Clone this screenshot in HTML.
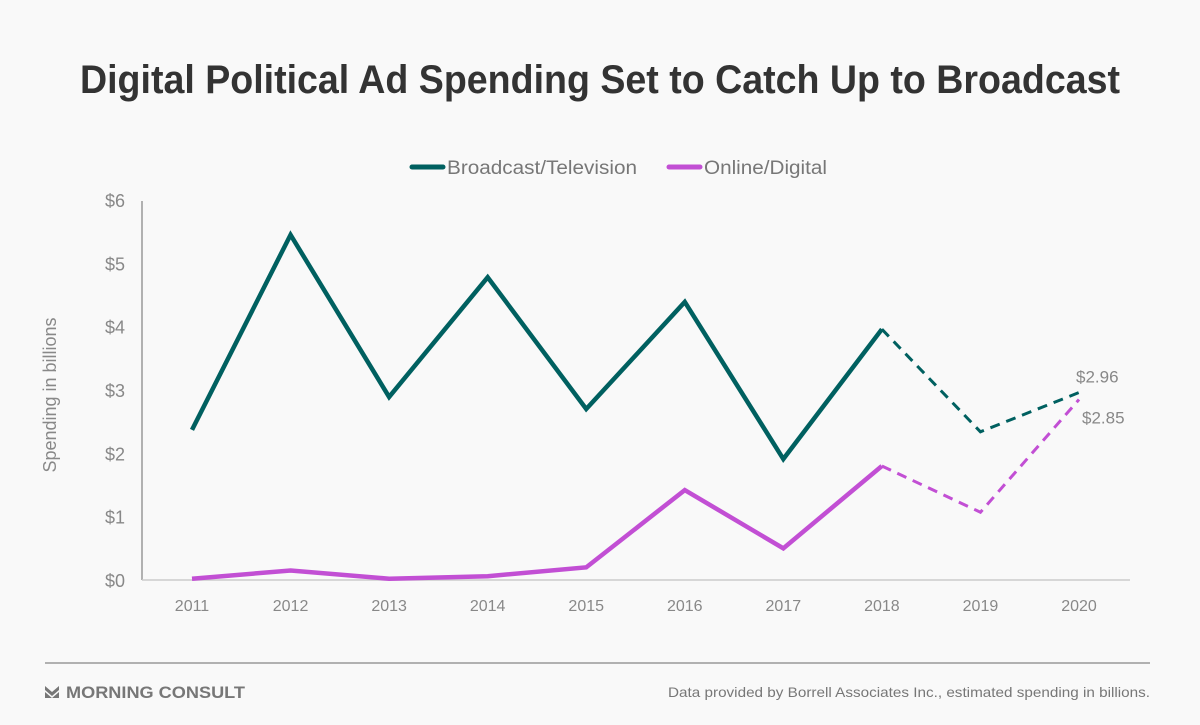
<!DOCTYPE html>
<html><head><meta charset="utf-8">
<style>
html,body{margin:0;padding:0;background:#f9f9f9;}
body{width:1200px;height:720px;overflow:hidden;font-family:"Liberation Sans",sans-serif;}
</style></head>
<body>
<svg id="chart" width="1200" height="720" xmlns="http://www.w3.org/2000/svg">
<rect width="1200" height="720" fill="#f9f9f9"/>
<text x="80" y="93" textLength="1040" lengthAdjust="spacingAndGlyphs" font-size="40" font-weight="bold" fill="#333">Digital Political Ad Spending Set to Catch Up to Broadcast</text>
<g>
<line x1="412" y1="167" x2="443" y2="167" stroke="#006060" stroke-width="5" stroke-linecap="round"/>
<text x="447" y="174" font-size="19" textLength="190" lengthAdjust="spacingAndGlyphs" fill="#777">Broadcast/Television</text>
<line x1="669" y1="167" x2="700" y2="167" stroke="#c24fd4" stroke-width="5" stroke-linecap="round"/>
<text x="704" y="174" font-size="19" textLength="123" lengthAdjust="spacingAndGlyphs" fill="#777">Online/Digital</text>
</g>
<text transform="translate(56,395) rotate(-90)" text-anchor="middle" font-size="18" fill="#888">Spending in billions</text>
<line x1="142" y1="201" x2="142" y2="580" stroke="#999" stroke-width="1.5"/>
<line x1="142" y1="580" x2="1130" y2="580" stroke="#ccc" stroke-width="1.5"/>
<g id="yticks"></g><g id="xticks"></g><g id="series"></g>
<line x1="45" y1="663" x2="1150" y2="663" stroke="#999" stroke-width="1.5"/>
<g>
<path d="M45,686 L52,692 L59,686 L59,690 L52,696 L45,690Z M45,692 L52,698 L59,692 L59,698 L45,698Z" fill="#777"/>
<text x="66" y="698" font-size="17" font-weight="bold" fill="#777" textLength="179" lengthAdjust="spacingAndGlyphs">MORNING CONSULT</text>
</g>
<text x="668" y="697" textLength="482" lengthAdjust="spacingAndGlyphs" font-size="14" fill="#777">Data provided by Borrell Associates Inc., estimated spending in billions.</text>
</svg>
<script>
const years=["2011","2012","2013","2014","2015","2016","2017","2018","2019","2020"];
const broadcast=[2.37,5.45,2.89,4.78,2.70,4.39,1.91,3.96,2.34,2.96];
const online=[0.02,0.15,0.02,0.06,0.2,1.42,0.5,1.8,1.07,2.85];
const yTicks=[0,1,2,3,4,5,6];
const yTickLabels=["$0","$1","$2","$3","$4","$5","$6"];
const estimateStart=7;
const NS="http://www.w3.org/2000/svg";
function xs(i){return 192+i*(1079-192)/(years.length-1);}
function ys(v){return 580-v*(380/6);}
function mk(tag,attrs,parent){const e=document.createElementNS(NS,tag);for(const k in attrs)e.setAttribute(k,attrs[k]);parent.appendChild(e);return e;}
const yg=document.getElementById('yticks');
yTicks.forEach((v,i)=>{const t=mk('text',{x:125,y:ys(v)+7,'text-anchor':'end','font-size':18,fill:'#888'},yg);t.textContent=yTickLabels[i];

});
const xg=document.getElementById('xticks');
years.forEach((y,i)=>{const t=mk('text',{x:xs(i),y:611,'text-anchor':'middle','font-size':16,fill:'#888'},xg);t.textContent=y;

});
const sg=document.getElementById('series');
function draw(vals,color,name){
 const pts=vals.map((v,i)=>xs(i)+','+ys(v));
 const solid=mk('polyline',{points:pts.slice(0,estimateStart+1).join(' '),fill:'none',stroke:color,'stroke-width':4.5,'stroke-linejoin':'miter'},sg);
 
 
 const dash=mk('polyline',{points:pts.slice(estimateStart).join(' '),fill:'none',stroke:color,'stroke-width':3,'stroke-dasharray':'10,7'},sg);
 
 
}
draw(broadcast,'#006060','broadcast');
draw(online,'#c24fd4','online');
const last=years.length-1;
const l1=mk('text',{x:xs(last)-3,y:ys(broadcast[last])-10,'font-size':17,fill:'#888'},sg);l1.textContent='$'+broadcast[last].toFixed(2);


const l2=mk('text',{x:xs(last)+3,y:ys(online[last])+24,'font-size':17,fill:'#888'},sg);l2.textContent='$'+online[last].toFixed(2);


</script>
</body></html>
